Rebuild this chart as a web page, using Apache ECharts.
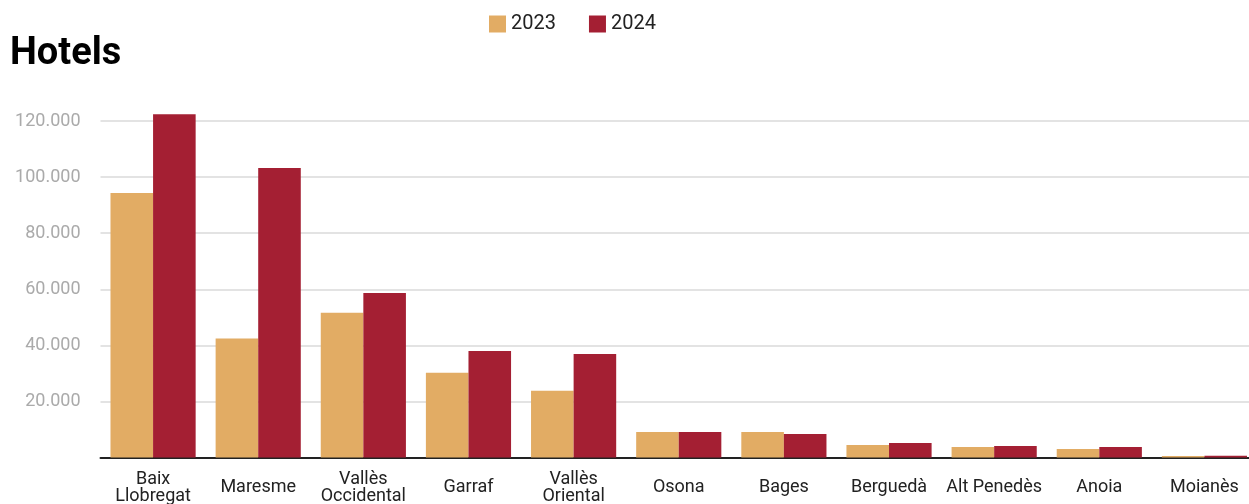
<!DOCTYPE html>
<html>
<head>
<meta charset="utf-8">
<script src="https://cdn.jsdelivr.net/npm/echarts@6/dist/echarts.min.js"></script>
<style>
html,body{margin:0;padding:0;background:#fff;}
#chart{width:1249px;height:504px;}
</style>
</head>
<body>
<div id="chart"></div>
<script>
const categories = ["Baix\nLlobregat", "Maresme", "Vallès\nOccidental", "Garraf", "Vallès\nOriental", "Osona", "Bages", "Berguedà", "Alt Penedès", "Anoia", "Moianès"];
const values2023 = [94300, 42400, 51600, 30200, 23800, 9100, 9100, 4500, 3750, 3000, 500];
const values2024 = [122400, 103200, 58700, 38000, 36900, 9100, 8400, 5200, 4100, 3750, 600];
const seriesNames = ["2023", "2024"];
const colors = ["#E2AC64", "#A41F33"];

function fmt(v) {
  return String(v).replace(/\B(?=(\d{3})+(?!\d))/g, ".");
}

const chart = echarts.init(document.getElementById('chart'), null, {renderer: 'canvas'});
chart.setOption({
  animation: false,
  backgroundColor: '#ffffff',
  title: {
    text: 'Hotels',
    left: 10,
    top: 35,
    padding: 0,
    textStyle: {fontFamily: 'Roboto', fontWeight: 'bold', fontSize: 38, color: '#000'}
  },
  legend: {
    left: 489,
    top: 14,
    padding: 0,
    itemWidth: 17,
    itemHeight: 17,
    itemGap: 33,
    icon: 'rect',
    textStyle: {fontFamily: 'Roboto', fontSize: 20, color: '#222'},
    data: seriesNames
  },
  grid: {
    left: 100.5,
    right: -8,
    top: 121,
    bottom: 46.5,
    containLabel: false,
    outerBoundsMode: 'none'
  },
  xAxis: {
    type: 'category',
    data: categories,
    axisLine: {show: true, lineStyle: {color: '#222', width: 2}},
    axisTick: {show: false},
    axisLabel: {
      interval: 0,
      fontFamily: 'Roboto',
      fontSize: 18,
      color: '#222',
      lineHeight: 17,
      margin: 30,
      verticalAlign: 'middle'
    }
  },
  yAxis: {
    type: 'value',
    min: 0,
    max: 120000,
    interval: 20000,
    axisLine: {show: false},
    axisTick: {show: false},
    splitLine: {show: true, lineStyle: {color: '#e3e3e3', width: 2}},
    axisLabel: {
      fontFamily: 'Roboto',
      fontSize: 18,
      color: '#aaaaaa',
      margin: 20,
      formatter: function (v) { return v === 0 ? '' : fmt(v); }
    }
  },
  series: [
    {
      name: seriesNames[0],
      type: 'bar',
      data: values2023,
      itemStyle: {color: colors[0]},
      barGap: '0%',
      barCategoryGap: '19%',
      clip: false
    },
    {
      name: seriesNames[1],
      type: 'bar',
      data: values2024,
      itemStyle: {color: colors[1]},
      barGap: '0%',
      barCategoryGap: '19%',
      clip: false
    }
  ]
});
</script>
</body>
</html>
